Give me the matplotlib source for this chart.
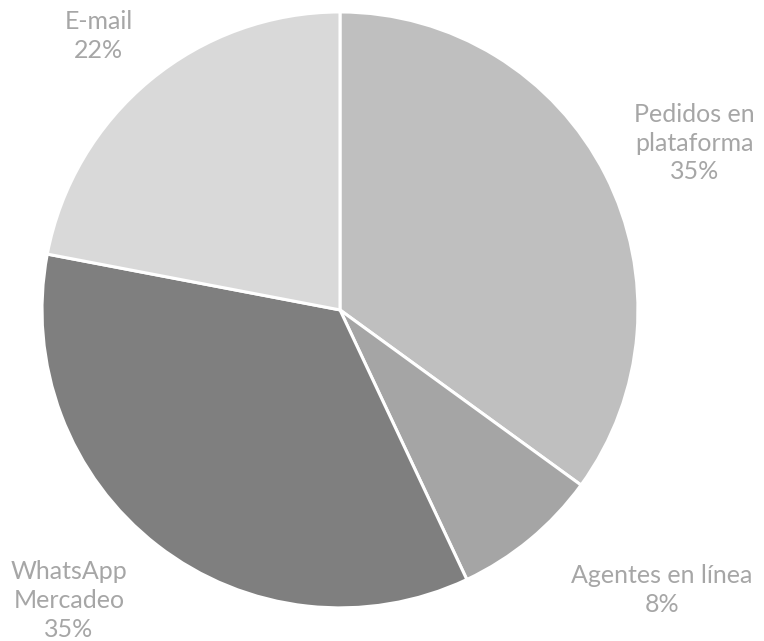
import matplotlib
matplotlib.use("Agg")
import matplotlib.pyplot as plt

# datos del gráfico
categorias = ["Pedidos en\nplataforma", "Agentes en línea", "WhatsApp\nMercadeo", "E-mail"]
porcentajes = [35, 8, 35, 22]
colores = ["#bfbfbf", "#a5a5a5", "#7f7f7f", "#d9d9d9"]
# posición de las etiquetas (x, y en unidades del radio)
pos_etiquetas = [(1.19, 0.56), (1.08, -0.94), (-0.91, -0.975), (-0.81, 0.92)]

fig = plt.figure(figsize=(7.64, 6.41), dpi=100)
ax = fig.add_axes([0.055, 0.0515, 0.78, 0.93])

ax.pie(porcentajes, colors=colores, startangle=90, counterclock=False,
       radius=1.0, wedgeprops=dict(edgecolor="white", linewidth=2.2))
ax.set_xlim(-1, 1)
ax.set_ylim(-1, 1)
ax.set_aspect("equal")
ax.axis("off")

for nombre, valor, (x, y) in zip(categorias, porcentajes, pos_etiquetas):
    ax.text(x, y, "%s\n%d%%" % (nombre, valor), ha="center", va="center",
            fontsize=18, color="#a6a6a6", family=["Lato", "DejaVu Sans"],
            linespacing=1.3, clip_on=False)

fig.savefig("out.png", dpi=100)
